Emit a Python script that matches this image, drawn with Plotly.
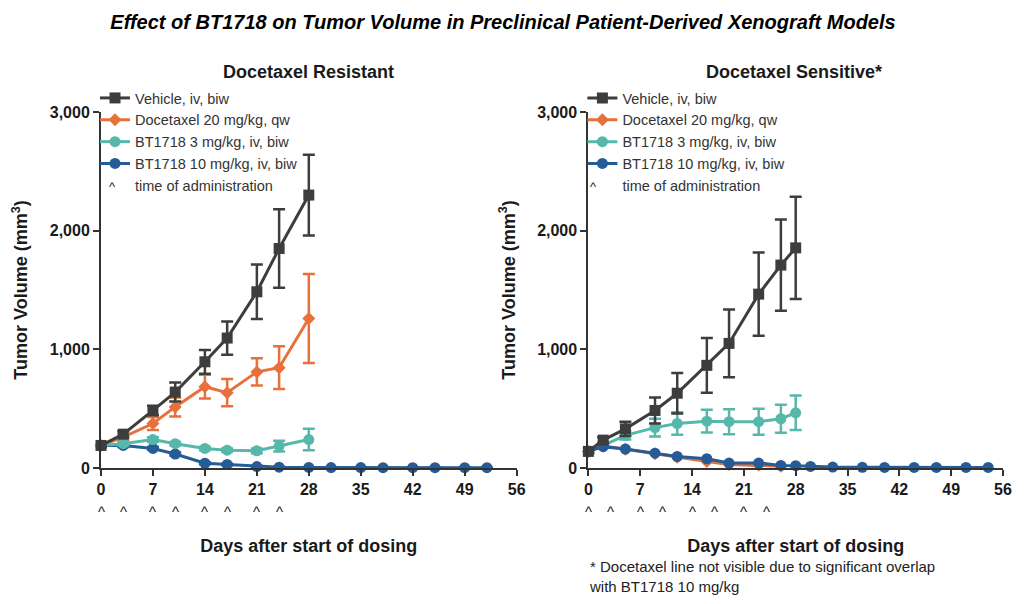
import plotly.graph_objects as go

# ---------------- data ----------------
admin_days = [0, 3, 7, 10, 14, 17, 21, 24]

# Docetaxel Resistant (left)
days_L = [0, 3, 7, 10, 14, 17, 21, 24, 28]
vehicle_L = [190, 285, 485, 640, 895, 1095, 1485, 1850, 2300]
vehicle_L_err = [15, 25, 40, 80, 100, 140, 230, 330, 340]
doce_L = [190, 260, 375, 515, 685, 635, 810, 845, 1260]
doce_L_err = [15, 25, 55, 80, 100, 115, 115, 180, 375]
bt3_L = [190, 205, 240, 205, 165, 150, 145, 185, 240]
bt3_L_err = [10, 15, 20, 15, 15, 15, 20, 45, 90]
days_L10 = [0, 3, 7, 10, 14, 17, 21, 24, 28, 31, 35, 38, 42, 45, 49, 52]
bt10_L = [190, 190, 165, 118, 40, 30, 12, 7, 5, 4, 4, 3, 3, 3, 3, 3]
bt10_L_err = [10, 12, 12, 12, 8, 6, 4, 3, 2, 2, 2, 2, 2, 2, 2, 2]

# Docetaxel Sensitive (right)
days_R = [0, 2, 5, 9, 12, 16, 19, 23, 26, 28]
vehicle_R = [140, 235, 330, 485, 630, 865, 1050, 1465, 1710, 1855]
vehicle_R_err = [15, 25, 60, 110, 170, 230, 285, 350, 385, 430]
bt3_R = [140, 190, 275, 340, 375, 395, 390, 390, 415, 465]
bt3_R_err = [10, 20, 35, 75, 95, 95, 105, 110, 117, 145]
days_R_doce = [0, 2, 5, 9, 12, 16, 19, 23, 26]
doce_R = [140, 185, 158, 120, 90, 55, 30, 25, 15]
days_R10 = [0, 2, 5, 9, 12, 16, 19, 23, 26, 28, 30, 33, 37, 40, 44, 47, 51, 54]
bt10_R = [140, 180, 160, 125, 97, 78, 42, 42, 22, 20, 13, 8, 6, 5, 5, 5, 5, 5]

x_ticks = [0, 7, 14, 21, 28, 35, 42, 49, 56]
y_ticks = [0, 1000, 2000, 3000]

names = ["Vehicle, iv, biw", "Docetaxel 20 mg/kg, qw",
         "BT1718 3 mg/kg, iv, biw", "BT1718 10 mg/kg, iv, biw"]
colors = ["#3d3d3d", "#e8703a", "#55b8aa", "#255b96"]
symbols = ["square", "diamond", "circle", "circle"]
msizes = [11, 10, 11, 11]

FONT = "Liberation Sans, Arial, Helvetica, sans-serif"

fig = go.Figure()


def add_series(x, y, err, idx, xa, ya, legend, rank):
    fig.add_trace(go.Scatter(
        x=x, y=y, mode="lines+markers", name=names[idx],
        line=dict(color=colors[idx], width=3),
        marker=dict(symbol=symbols[idx], size=msizes[idx], color=colors[idx]),
        error_y=dict(type="data", array=err, visible=err is not None,
                     color=colors[idx], thickness=2.5, width=6),
        xaxis=xa, yaxis=ya, legend=legend, legendrank=rank,
        cliponaxis=False, showlegend=True,
    ))


# left panel
add_series(days_L10, bt10_L, bt10_L_err, 3, "x", "y", "legend", 4)
add_series(days_L, doce_L, doce_L_err, 1, "x", "y", "legend", 2)
add_series(days_L, bt3_L, bt3_L_err, 2, "x", "y", "legend", 3)
add_series(days_L, vehicle_L, vehicle_L_err, 0, "x", "y", "legend", 1)

# right panel
add_series(days_R_doce, doce_R, None, 1, "x2", "y2", "legend2", 2)
add_series(days_R, bt3_R, bt3_R_err, 2, "x2", "y2", "legend2", 3)
add_series(days_R10, bt10_R, None, 3, "x2", "y2", "legend2", 4)
add_series(days_R, vehicle_R, vehicle_R_err, 0, "x2", "y2", "legend2", 1)

# legend entries for "time of administration"
for xa, ya, lg in [("x", "y", "legend"), ("x2", "y2", "legend2")]:
    fig.add_trace(go.Scatter(
        x=[None], y=[None], mode="lines", name="time of administration",
        line=dict(color="rgba(0,0,0,0)", width=0),
        xaxis=xa, yaxis=ya, legend=lg, legendrank=5, showlegend=True,
    ))

annotations = []
# carets at administration days
for xr in ["x", "x2"]:
    for d in admin_days:
        annotations.append(dict(
            x=d, y=0, xref=xr, yref="y", yshift=-43, text="^",
            showarrow=False, font=dict(family=FONT, size=15, color="#222"),
        ))

# page offset of 8 px (browser body margin) is compensated in the sizes
OFF = 8
W, H = 1028 - OFF, 604 - OFF
ML, MR, MT, MB = 98 - OFF, 25, 112 - OFF, 136
PW, PH = W - ML - MR, H - MT - MB


def px_to_paper(px, py):
    return (px - OFF - ML) / PW, 1 - (py - OFF - MT) / PH


for lx in [104, 592]:
    ax, ay = px_to_paper(lx, 177)
    annotations.append(dict(
        x=ax, y=ay, xref="paper", yref="paper", text="^", showarrow=False,
        font=dict(family=FONT, size=13, color="#222"),
    ))

# subplot titles
for cx, t in [(306, "Docetaxel Resistant"), (793, "Docetaxel Sensitive*")]:
    ax, ay = px_to_paper(cx, 72)
    annotations.append(dict(
        x=ax, y=ay, xref="paper", yref="paper", text=t, showarrow=False,
        font=dict(family=FONT, size=18, color="#1a1a1a", weight="bold"),
        xanchor="center", yanchor="middle",
    ))

# footnote
fx, fy = px_to_paper(586, 576)
annotations.append(dict(
    x=fx, y=fy, xref="paper", yref="paper",
    text="* Docetaxel line not visible due to significant overlap<br>with BT1718 10 mg/kg",
    showarrow=False, align="left", xanchor="left", yanchor="middle",
    font=dict(family=FONT, size=15, color="#222"),
))

axis_common = dict(
    showgrid=False, zeroline=False, showline=True, linecolor="#333", linewidth=2,
    ticks="outside", ticklen=6, tickwidth=2, tickcolor="#333",
    tickfont=dict(family=FONT, size=16, color="#1a1a1a", weight="bold"),
)
xaxis_common = dict(axis_common, range=[0, 56], tickvals=x_ticks,
                    title=dict(text="Days after start of dosing", standoff=42,
                               font=dict(family=FONT, size=18, color="#1a1a1a", weight="bold")))
yaxis_common = dict(axis_common, range=[0, 3000], tickvals=y_ticks, tickformat=",",
                    title=dict(text="Tumor Volume (mm<sup>3</sup>)", standoff=17,
                               font=dict(family=FONT, size=18, color="#1a1a1a", weight="bold")))

lgx1, lgy = px_to_paper(92, 82)
lgx2, _ = px_to_paper(581, 82)
legend_common = dict(
    font=dict(family=FONT, size=14.5, color="#333"), bgcolor="rgba(0,0,0,0)",
    yanchor="top", xanchor="left", tracegroupgap=0, itemwidth=30,
)

fig.update_layout(
    width=W, height=H,
    margin=dict(l=ML, r=MR, t=MT, b=MB),
    paper_bgcolor="white", plot_bgcolor="white",
    title=dict(text="<i>Effect of BT1718 on Tumor Volume in Preclinical Patient-Derived Xenograft Models</i>",
               x=(503 - OFF) / W, y=1 - (22 - OFF) / H, xanchor="center", yanchor="middle",
               xref="container", yref="container",
               font=dict(family=FONT, size=20, color="black", weight="bold")),
    xaxis=dict(xaxis_common, domain=[0, (515 - 98) / PW], anchor="y"),
    yaxis=dict(yaxis_common, domain=[0, 1], anchor="x"),
    xaxis2=dict(xaxis_common, domain=[(587 - 98) / PW, 1], anchor="y2"),
    yaxis2=dict(yaxis_common, domain=[0, 1], anchor="x2"),
    legend=dict(legend_common, x=lgx1, y=lgy),
    legend2=dict(legend_common, x=lgx2, y=lgy),
    annotations=annotations,
    showlegend=True,
)

fig.write_html("out.html")
